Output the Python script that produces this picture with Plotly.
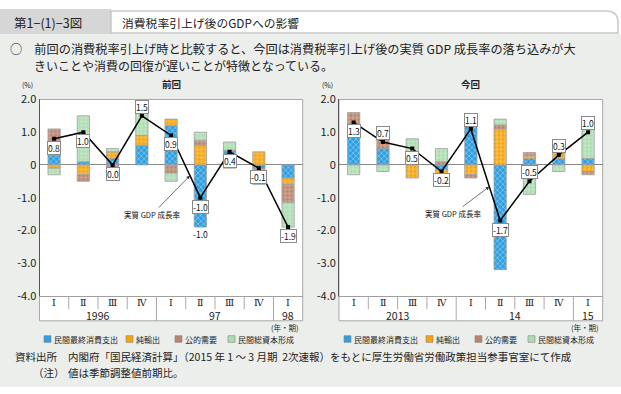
import plotly.graph_objects as go

W, H = 621, 394

# ---------------- data ----------------
series_names = ["民間最終消費支出", "純輸出", "公的需要", "民間総資本形成"]

quarters_prev = ["Ⅰ", "Ⅱ", "Ⅲ", "Ⅳ", "Ⅰ", "Ⅱ", "Ⅲ", "Ⅳ", "Ⅰ"]
years_prev = ["1996", "1996", "1996", "1996", "97", "97", "97", "97", "98"]
cons_prev = [0.3, 0.1, 0.2, 0.6, 1.2, -1.9, 0.45, -0.1, -0.4]
netexp_prev = [-0.1, -0.3, 0.2, 0.3, 0.2, 0.6, -0.1, 0.4, -0.2]
public_prev = [0.8, -0.2, -0.4, 0.0, -0.25, 0.15, 0.0, -0.2, -0.55]
invest_prev = [-0.2, 1.4, 0.1, 0.7, -0.25, 0.25, 0.25, -0.3, -0.75]
gdp_prev = [0.8, 1.0, 0.0, 1.5, 0.9, -1.0, 0.4, -0.1, -1.9]

quarters_now = ["Ⅰ", "Ⅱ", "Ⅲ", "Ⅳ", "Ⅰ", "Ⅱ", "Ⅲ", "Ⅳ", "Ⅰ"]
years_now = ["2013", "2013", "2013", "2013", "14", "14", "14", "14", "15"]
cons_now = [0.85, 0.5, 0.15, -0.15, 1.3, -3.2, 0.2, 0.2, 0.2]
netexp_now = [0.1, 0.0, -0.4, -0.45, -0.3, 1.1, 0.08, 0.2, -0.2]
public_now = [0.65, 0.33, 0.1, 0.1, -0.1, 0.12, 0.1, 0.05, -0.1]
invest_now = [-0.3, -0.2, 0.55, 0.4, 0.15, 0.18, -0.9, -0.2, 0.93]
gdp_now = [1.3, 0.7, 0.5, -0.2, 1.1, -1.7, -0.5, 0.3, 1.0]

y_tick_vals = [-4, -3, -2, -1, 0, 1, 2]
y_tick_text = ["-4.0", "-3.0", "-2.0", "-1.0", "0", "1.0", "2.0"]

# ---------------- styling ----------------
FONT = "Noto Sans CJK JP"
colors = ["#2f9fe0", "#f6a40c", "#b9836c", "#acdcb0"]
patterns = ["x", "+", "+", "+"]
lab_side_prev = [-1, -1, -1, 1, -1, -1, -1, -1, -1]
lab_side_now = [-1, 1, -1, -1, 1, -1, 1, 1, 1]


def PX(p):
    return p / W


def PY(p):
    return 1 - p / H


def txt(x, y, text, size, xanchor="center", **kw):
    d = dict(x=PX(x), y=PY(y), xref="paper", yref="paper", text=text, showarrow=False,
             xanchor=xanchor, yanchor="middle", font=dict(size=size, color="#222"))
    d.update(kw)
    return d


panels = [
    dict(xa="x", ya="y", x0=39.5, x1=302.7, title="前回",
         q=quarters_prev, yr=years_prev,
         comps=[cons_prev, netexp_prev, public_prev, invest_prev],
         gdp=gdp_prev, side=lab_side_prev, arrow_t=0.645, ax=-38, ay=39,
         extra=[(5, -1.0)]),
    dict(xa="x2", ya="y2", x0=339.0, x1=602.7, title="今回",
         q=quarters_now, yr=years_now,
         comps=[cons_now, netexp_now, public_now, invest_now],
         gdp=gdp_now, side=lab_side_now, arrow_t=0.63, ax=-36, ay=27,
         extra=[]),
]

Y_TOP, Y_BOT, PANEL_BOT = 94.3, 299.0, 325.0
TAB_R = 111

fig = go.Figure()
shapes = []
ann = []

# background blocks
shapes.append(dict(type="rect", xref="paper", yref="paper", x0=0, x1=1,
                   y0=0, y1=PY(26), fillcolor="#eceeec", line=dict(width=0), layer="below"))
shapes.append(dict(type="rect", xref="paper", yref="paper", x0=0, x1=PX(TAB_R),
                   y0=PY(26), y1=1, fillcolor="#d6d6d6", line=dict(width=0), layer="below"))
r = 12
path = (f"M {PX(TAB_R)},{PY(25)} L {PX(TAB_R)},{PY(2)} L {PX(618 - r)},{PY(2)} "
        f"Q {PX(618)},{PY(2)} {PX(618)},{PY(2 + r)} L {PX(618)},{PY(25)} Z")
shapes.append(dict(type="path", xref="paper", yref="paper", path=path,
                   fillcolor="white", line=dict(color="#c8c8c8", width=1.5), layer="below"))

for k, p in enumerate(panels):
    n = len(p["gdp"])
    idx = list(range(n))
    for name, vals, col, pat in zip(series_names, p["comps"], colors, patterns):
        fig.add_trace(go.Bar(
            x=idx, y=vals, name=name, xaxis=p["xa"], yaxis=p["ya"], width=0.42,
            marker=dict(color=col, line=dict(color="#a0a0a0", width=0.8),
                        pattern=dict(shape=pat, fgcolor="white", size=4,
                                     solidity=0.3, fillmode="overlay")),
            showlegend=False, hoverinfo="skip"))
    fig.add_trace(go.Scatter(
        x=idx, y=p["gdp"], mode="lines+markers", xaxis=p["xa"], yaxis=p["ya"],
        line=dict(color="black", width=1.5),
        marker=dict(symbol="square", size=4, color="black"),
        showlegend=False, hoverinfo="skip", name="実質 GDP 成長率"))

    shapes.append(dict(type="rect", xref="paper", yref="paper",
                       x0=PX(p["x0"]), x1=PX(p["x1"]), y0=PY(PANEL_BOT), y1=PY(Y_TOP),
                       fillcolor="white", line=dict(color="#a8a8a8", width=1), layer="below"))
    for i in range(n - 1):
        long_ = p["yr"][i] != p["yr"][i + 1]
        shapes.append(dict(type="line", xref=p["xa"], yref="paper",
                           x0=i + 0.5, x1=i + 0.5, y0=PY(Y_BOT),
                           y1=PY(PANEL_BOT if long_ else 313),
                           line=dict(color="#a8a8a8", width=1)))
    for i, q in enumerate(p["q"]):
        ann.append(dict(x=i, y=PY(305.5), xref=p["xa"], yref="paper", text=q,
                        showarrow=False, yanchor="middle",
                        font=dict(size=9.5, color="#222", family="DejaVu Serif")))
    groups = []
    for i, yv in enumerate(p["yr"]):
        if groups and groups[-1][0] == yv:
            groups[-1][1].append(i)
        else:
            groups.append([yv, [i]])
    for yv, ids in groups:
        ann.append(dict(x=sum(ids) / len(ids), y=PY(319), xref=p["xa"], yref="paper",
                        text=yv, showarrow=False, yanchor="middle",
                        font=dict(size=10.5, color="#222")))
    ann.append(txt(p["x1"] - 2, 331.5, "(年・期)", 7.5, xanchor="right"))
    for i, v in enumerate(p["gdp"]):
        ann.append(dict(x=i, y=v, xref=p["xa"], yref=p["ya"], text=f"{v:.1f}",
                        showarrow=False, yshift=9 * p["side"][i], yanchor="middle",
                        bgcolor="white", bordercolor="#8a8a8a", borderwidth=1, borderpad=0,
                        font=dict(size=8.5, color="#111")))
    for i, v in p["extra"]:
        ann.append(dict(x=i, y=min(p["comps"][0][i], 0), xref=p["xa"], yref=p["ya"],
                        text=f"{v:.1f}", showarrow=False, yshift=-7, yanchor="middle",
                        font=dict(size=8.5, color="#111")))
    t = p["arrow_t"]
    g = p["gdp"]
    ann.append(dict(x=4 + t, y=g[4] + t * (g[5] - g[4]), xref=p["xa"], yref=p["ya"],
                    text="実質 GDP 成長率", showarrow=True, ax=p["ax"], ay=p["ay"],
                    arrowhead=2, arrowsize=1, arrowwidth=0.7, arrowcolor="#333",
                    font=dict(size=7.5, color="#111")))
    ann.append(txt((p["x0"] + p["x1"]) / 2, 78.5, "<b>" + p["title"] + "</b>", 9.5))
    ann.append(txt(p["x0"] - 12, 79.5, "(%)", 7))
    off = 0 if k == 0 else 300
    sw_x = [44, 126, 175, 228]
    tx_x = [52, 134, 183, 236]
    for name, col, sx, tx in zip(series_names, colors, sw_x, tx_x):
        shapes.append(dict(type="rect", xref="paper", yref="paper",
                           x0=PX(sx + off), x1=PX(sx + off + 7), y0=PY(347.5), y1=PY(340.5),
                           fillcolor=col, line=dict(color="#888", width=0.6)))
        ann.append(txt(tx + off, 344, name, 8, xanchor="left"))

ann += [
    txt(12, 14, "第1−(1)−3図", 12.5, xanchor="left"),
    txt(120, 14, "消費税率引上げ後のGDPへの影響", 11.8, xanchor="left"),
    txt(8, 41.5,
        "○　前回の消費税率引上げ時と比較すると、今回は消費税率引上げ後の実質 GDP 成長率の落ち込みが大",
        12.2, xanchor="left"),
    txt(32.4, 59, "きいことや消費の回復が遅いことが特徴となっている。", 12, xanchor="left"),
    txt(13, 362.5, "資料出所", 10.5, xanchor="left"),
    txt(66, 362.5, "内閣府「国民経済計算」（2015 年 1 ～ 3 月期  2次速報）をもとに厚生労働省労働政策担当参事官室にて作成",
        10.5, xanchor="left"),
    txt(31, 378.5, "（注）", 10.5, xanchor="left"),
    txt(66, 378.5, "値は季節調整値前期比。", 10.5, xanchor="left"),
]

ydom = [PY(Y_BOT), PY(Y_TOP)]
axis_common_y = dict(range=[-4, 2], tickvals=y_tick_vals, ticktext=y_tick_text,
                     showgrid=False, showline=True, linecolor="#555", linewidth=1,
                     ticks="", zeroline=True, zerolinecolor="#888", zerolinewidth=1,
                     tickfont=dict(size=11, color="#222"), domain=ydom, fixedrange=True)
axis_common_x = dict(range=[-0.5, 8.5], showticklabels=False, ticks="", showgrid=False,
                     showline=True, linecolor="#a0a0a0", zeroline=False, fixedrange=True)

fig.update_layout(
    width=W, height=H, margin=dict(l=0, r=0, t=0, b=0, pad=0),
    paper_bgcolor="white", plot_bgcolor="rgba(0,0,0,0)",
    barmode="relative", bargap=0.5,
    font=dict(family=FONT, color="#222"),
    xaxis=dict(domain=[PX(39.5), PX(302.7)], anchor="y", **axis_common_x),
    yaxis=dict(anchor="x", **axis_common_y),
    xaxis2=dict(domain=[PX(339.0), PX(602.7)], anchor="y2", **axis_common_x),
    yaxis2=dict(anchor="x2", **axis_common_y),
    shapes=shapes, annotations=ann, showlegend=False,
)

fig.write_html("out.html", config={"displayModeBar": False},
               post_script="document.body.style.margin='0';")
